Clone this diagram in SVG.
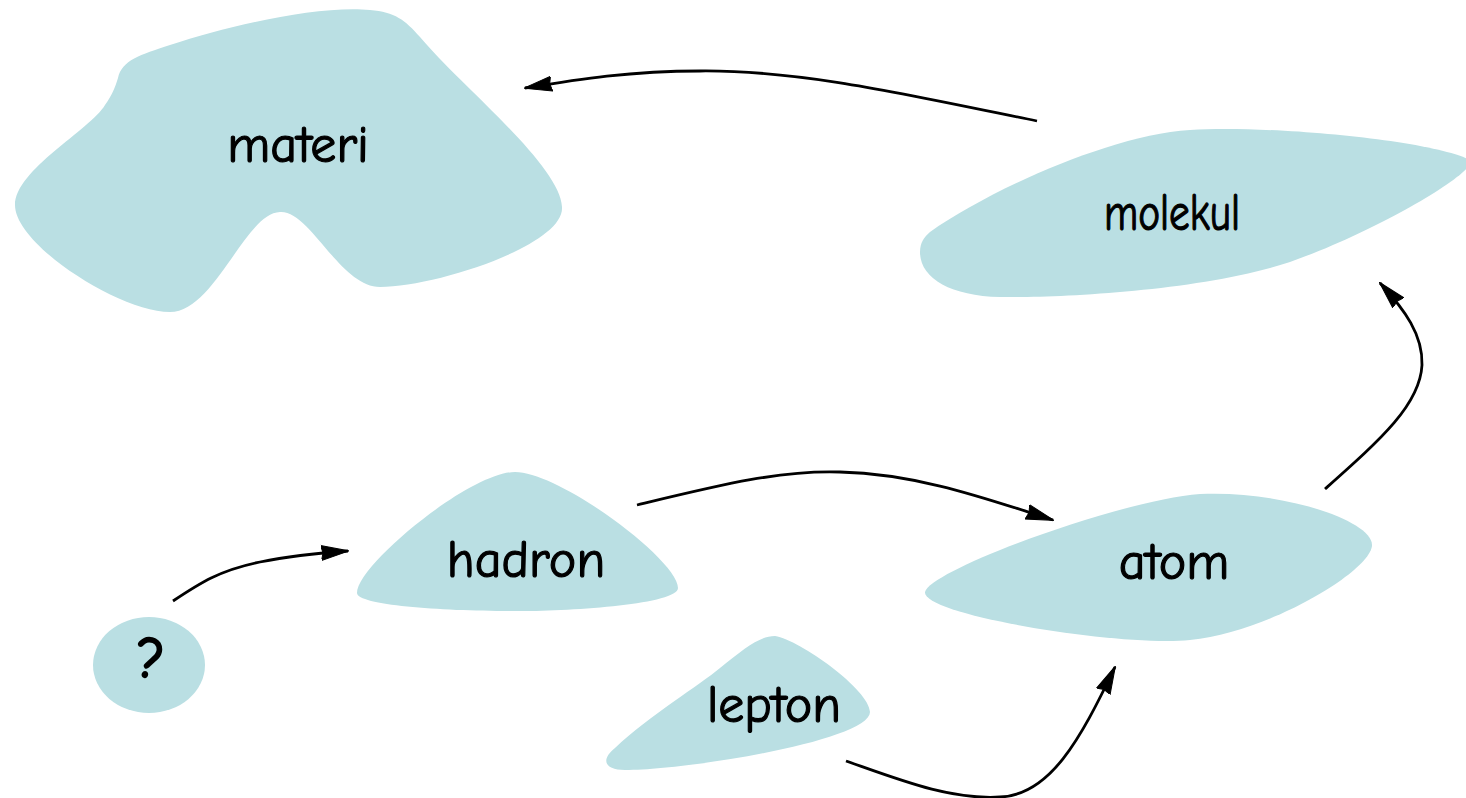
<svg xmlns="http://www.w3.org/2000/svg" width="1466" height="798" viewBox="0 0 1466 798">
  <style>
    .blob { fill: #badfe3; stroke: none; }
    .label { font-family: "Comic Sans MS", "Comic Neue", "DejaVu Sans", sans-serif; font-size: 52px; fill: #000; stroke: #000; stroke-width: 1.2; text-anchor: middle; }
    .mark { font-size: 54px; stroke-width: 2.4; }
    .link { fill: none; stroke: #000; stroke-width: 2.8; marker-end: url(#arrow); }
  </style>
  <defs>
    <marker id="arrow" markerUnits="userSpaceOnUse" markerWidth="28" markerHeight="20" viewBox="0 0 28 20" refX="27" refY="10" orient="auto">
      <path d="M0,2.5 L28,10 L0,17.5 L2,10 Z" fill="#000" stroke="#000" stroke-width="1"/>
    </marker>
  </defs>

  <g id="node-materi">
    <path class="blob" d="M 118,78 C 122,60 140,55 170,45 C 230,25 320,5 370,10 C 395,12 405,20 420,37 C 460,85 560,165 562,207 C 565,245 435,287 380,287 C 340,287 310,210 280,212 C 245,213 215,312 170,312 C 120,312 15,245 15,205 C 15,170 90,130 105,105 C 112,95 115,88 118,78 Z"/>
    <text class="label" x="298" y="162">materi</text>
  </g>

  <g id="node-molekul">
    <path class="blob" d="M 930,232 C 990,190 1110,135 1190,130 C 1270,125 1430,140 1470,160 C 1480,170 1380,230 1290,262 C 1200,292 1050,298 1000,297 C 950,296 920,278 920,252 C 920,243 924,237 930,232 Z"/>
    <text class="label" x="1172" y="230" textLength="136" lengthAdjust="spacingAndGlyphs">molekul</text>
  </g>

  <g id="node-hadron">
    <path class="blob" d="M 515,472 C 560,472 678,560 678,588 C 678,605 560,612 510,611 C 440,611 357,605 357,593 C 357,565 470,472 515,472 Z"/>
    <text class="label" x="526" y="577">hadron</text>
  </g>

  <g id="node-atom">
    <path class="blob" d="M 925,592 C 930,570 1120,500 1200,494 C 1280,490 1372,520 1372,545 C 1372,570 1270,632 1190,640 C 1120,647 922,615 925,592 Z"/>
    <text class="label" x="1174" y="579">atom</text>
  </g>

  <g id="node-lepton">
    <path class="blob" d="M 775,636 C 800,640 870,690 870,712 C 870,740 690,770 625,770 C 605,770 600,760 615,748 C 650,715 700,685 720,668 C 745,648 760,636 775,636 Z"/>
    <text class="label" x="774" y="722">lepton</text>
  </g>

  <g id="node-unknown">
    <ellipse class="blob" cx="149" cy="665" rx="56" ry="48"/>
    <text class="label mark" x="151" y="677">?</text>
  </g>

  <g id="connectors">
    <path class="link" d="M 1037,121 C 900,93 800,70 700,71 C 630,71 580,79 525,88"/>
    <path class="link" d="M 173,601 C 200,583 220,570 260,562 C 290,556 320,553 348,551"/>
    <path class="link" d="M 637,505 C 720,485 780,470 840,472 C 920,474 990,500 1053,520"/>
    <path class="link" d="M 846,761 C 900,780 950,800 1000,797 C 1050,795 1080,740 1115,667"/>
    <path class="link" d="M 1325,489 C 1380,440 1420,405 1422,365 C 1423,335 1405,310 1380,283"/>
  </g>
</svg>
